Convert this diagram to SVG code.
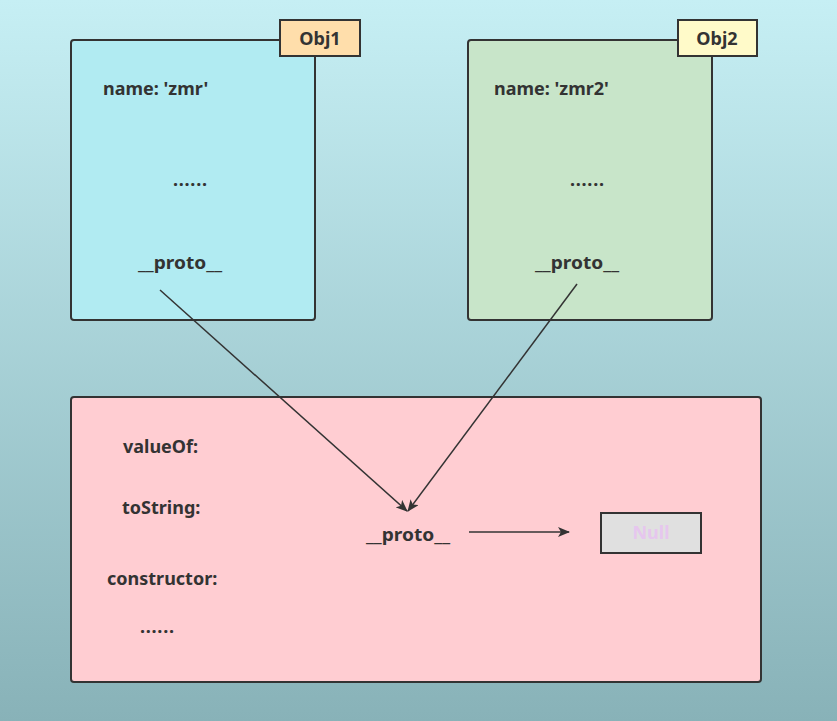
<svg xmlns="http://www.w3.org/2000/svg" width="837" height="721" viewBox="0 0 837 721">
<defs>
<linearGradient id="bg" x1="0" y1="0" x2="0" y2="1">
<stop offset="0" stop-color="#c6eff4"/>
<stop offset="1" stop-color="#88b2b8"/>
</linearGradient>
<marker id="arr" viewBox="0 0 12 10" refX="11" refY="5" markerWidth="12" markerHeight="10" markerUnits="userSpaceOnUse" orient="auto">
<path d="M0,0 L12,5 L0,10 L3,5 Z" fill="#333"/>
</marker>
<style>
.box{stroke:#333;stroke-width:2}
.t{font-family:"Noto Sans","Open Sans",sans-serif;font-weight:bold;font-size:18px;fill:#333}
.ln{stroke:#333;stroke-width:1.5;fill:none;marker-end:url(#arr)}
</style>
</defs>
<rect width="837" height="721" fill="url(#bg)"/>
<g id="obj1">
<rect class="box" x="71" y="40" width="244" height="280" rx="3" fill="#b1ebf2"/>
<rect class="box" x="280" y="20" width="80" height="36" fill="#ffdeab"/>
<text class="t" x="320" y="45" text-anchor="middle">Obj1</text>
<text class="t" x="103" y="95">name: 'zmr'</text>
<text class="t" x="173" y="186" textLength="34" lengthAdjust="spacing">......</text>
<text class="t" x="138" y="269" textLength="84" lengthAdjust="spacingAndGlyphs">__proto__</text>
</g>
<g id="obj2">
<rect class="box" x="468" y="40" width="244" height="280" rx="3" fill="#c8e5c9"/>
<rect class="box" x="678" y="20" width="79" height="36" fill="#fffac9"/>
<text class="t" x="717" y="45" text-anchor="middle">Obj2</text>
<text class="t" x="494" y="95">name: 'zmr2'</text>
<text class="t" x="570" y="186" textLength="34" lengthAdjust="spacing">......</text>
<text class="t" x="535" y="269" textLength="84" lengthAdjust="spacingAndGlyphs">__proto__</text>
</g>
<g id="proto">
<rect class="box" x="71" y="397" width="690" height="285" rx="3" fill="#ffcdd2"/>
<text class="t" x="123" y="453">valueOf:</text>
<text class="t" x="122" y="514">toString:</text>
<text class="t" x="107" y="585">constructor:</text>
<text class="t" x="140" y="633" textLength="34" lengthAdjust="spacing">......</text>
<text class="t" x="366" y="541" textLength="84" lengthAdjust="spacingAndGlyphs">__proto__</text>
</g>
<g id="null">
<rect class="box" x="601" y="513" width="100" height="40" fill="#e0e0e0"/>
<text class="t" x="651" y="539" text-anchor="middle" style="fill:#e6c6ee">Null</text>
</g>
<g id="connectors">
<line class="ln" x1="160" y1="290" x2="407" y2="511"/>
<line class="ln" x1="577" y1="284" x2="408" y2="511"/>
<line class="ln" x1="469" y1="532" x2="569" y2="532"/>
</g>
</svg>
